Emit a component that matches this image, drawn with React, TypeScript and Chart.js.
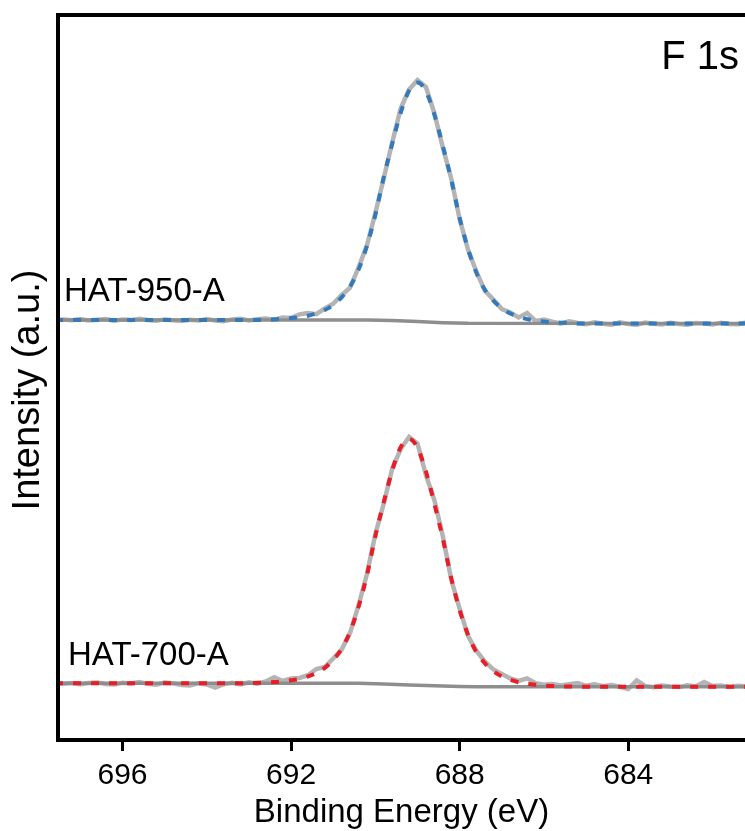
import React, { useEffect, useRef } from 'react';
import { Chart, registerables } from 'chart.js';

Chart.register(...registerables);

// Binding energy grid (eV)
const ENERGY = [
  697.6, 697.4, 697.2, 697.0, 696.8, 696.6, 696.4, 696.2, 696.0, 695.8,
  695.6, 695.4, 695.2, 695.0, 694.8, 694.6, 694.4, 694.2, 694.0, 693.8,
  693.6, 693.4, 693.2, 693.0, 692.8, 692.6, 692.4, 692.2, 692.0, 691.8,
  691.6, 691.4, 691.2, 691.0, 690.8, 690.6, 690.4, 690.2, 690.0, 689.8,
  689.6, 689.4, 689.2, 689.0, 688.8, 688.6, 688.4, 688.2, 688.0, 687.8,
  687.6, 687.4, 687.2, 687.0, 686.8, 686.6, 686.4, 686.2, 686.0, 685.8,
  685.6, 685.4, 685.2, 685.0, 684.8, 684.6, 684.4, 684.2, 684.0, 683.8,
  683.6, 683.4, 683.2, 683.0, 682.8, 682.6, 682.4, 682.2, 682.0, 681.8,
  681.6, 681.4, 681.2,
];

// HAT-950-A (offset trace)
const RAW_950 = [
  419.6, 420.5, 419.8, 420.9, 419.5, 420.2, 421.0, 419.3, 420.4, 419.9,
  421.3, 420.0, 419.2, 420.6, 419.7, 418.9, 420.3, 419.4, 421.0, 419.6,
  418.8, 420.4, 421.2, 419.5, 420.8, 421.5, 420.2, 422.4, 422.0, 425.6,
  427.0, 425.8, 431.6, 436.2, 445.0, 452.4, 472.5, 494.8, 527.0, 562.0,
  597.5, 631.5, 650.6, 660.0, 653.0, 626.8, 592.6, 561.5, 520.8, 490.2,
  468.0, 449.2, 440.4, 431.0, 427.5, 422.6, 427.0, 419.0, 420.4, 418.2,
  416.5, 418.8, 417.0, 415.8, 417.6, 416.2, 415.4, 417.8, 416.0, 415.2,
  417.4, 416.3, 415.5, 417.2, 416.0, 415.3, 417.0, 416.4, 415.6, 417.3,
  416.1, 415.7, 417.6,
];
const FIT_950 = [
  420.0, 420.0, 420.0, 420.0, 420.0, 420.0, 420.0, 420.0, 420.0, 420.0,
  420.0, 420.0, 420.0, 420.0, 420.0, 420.0, 420.0, 420.0, 420.0, 420.0,
  420.0, 420.0, 420.0, 420.0, 420.0, 420.5, 420.7, 421.2, 421.9, 422.9,
  424.3, 426.7, 430.0, 435.1, 442.7, 453.5, 470.2, 494.1, 525.2, 563.1,
  596.3, 627.1, 649.4, 657.4, 648.6, 625.5, 594.2, 560.4, 522.0, 490.8,
  466.9, 450.1, 439.3, 431.7, 426.6, 423.3, 420.9, 419.5, 418.5, 417.8,
  417.3, 417.1, 416.6, 416.6, 416.6, 416.6, 416.6, 416.6, 416.6, 416.6,
  416.6, 416.6, 416.5, 416.5, 416.5, 416.5, 416.5, 416.5, 416.5, 416.5,
  416.5, 416.5, 416.5,
];
const BG_950_E = [697.6, 690.2, 689.6, 689.0, 688.4, 687.8, 681.2];
const BG_950 = [420.0, 420.0, 419.4, 418.4, 417.3, 416.7, 416.5];

// HAT-700-A
const RAW_700 = [
  57.2, 56.2, 57.0, 55.8, 56.9, 57.6, 56.0, 55.4, 57.3, 56.5,
  58.0, 56.1, 55.2, 57.4, 56.6, 55.0, 54.6, 56.8, 55.5, 52.5,
  55.8, 57.2, 55.6, 57.8, 56.4, 58.6, 62.8, 59.0, 61.4, 62.0,
  64.8, 71.0, 73.0, 81.5, 90.4, 107.2, 134.5, 166.0, 206.0, 236.5,
  271.2, 291.0, 303.0, 296.5, 265.0, 240.0, 204.0, 160.5, 131.2, 104.0,
  89.0, 78.4, 70.5, 66.0, 61.5, 59.0, 61.6, 56.8, 55.2, 56.0,
  54.6, 55.8, 57.0, 54.2, 55.6, 53.8, 54.9, 53.2, 51.0, 59.5,
  54.0, 52.8, 54.4, 53.5, 52.9, 54.8, 53.6, 58.0, 53.9, 54.6,
  53.0, 54.2, 53.7,
];
const FIT_700 = [
  56.7, 56.7, 56.7, 56.7, 56.7, 56.7, 56.7, 56.7, 56.7, 56.7,
  56.7, 56.7, 56.7, 56.7, 56.7, 56.7, 56.7, 56.7, 56.7, 56.7,
  56.7, 56.7, 56.7, 56.7, 57.2, 57.4, 57.9, 58.7, 59.7, 61.1,
  63.6, 67.0, 72.2, 80.1, 91.1, 108.4, 133.0, 164.7, 203.9, 238.0,
  269.7, 292.8, 301.1, 292.2, 268.5, 236.2, 201.5, 161.9, 129.8, 105.1,
  87.7, 76.7, 68.8, 63.6, 60.2, 57.7, 56.3, 55.3, 54.5, 54.0,
  53.7, 53.5, 53.3, 53.3, 53.3, 53.3, 53.3, 53.3, 53.3, 53.3,
  53.3, 53.3, 53.2, 53.2, 53.2, 53.2, 53.2, 53.2, 53.2, 53.2,
  53.2, 53.2, 53.2,
];
const BG_700_E = [697.6, 690.4, 689.8, 689.2, 688.6, 688.0, 687.6, 681.2];
const BG_700 = [56.7, 56.7, 56.0, 55.1, 54.2, 53.5, 53.3, 53.2];

const X_TICKS = [696, 692, 688, 684];
const X_MIN = 681.23;
const X_MAX = 697.53;
const Y_MIN = 0;
const Y_MAX = 725;

const SERIES_LABELS = ['HAT-950-A', 'HAT-700-A'];
const PANEL_LABEL = 'F 1s';
const X_TITLE = 'Binding Energy (eV)';
const Y_TITLE = 'Intensity (a.u.)';

const FONT = '"Liberation Sans", Arial, Helvetica, sans-serif';

export default function App() {
  const ref = useRef<HTMLCanvasElement | null>(null);

  useEffect(() => {
    const canvas = ref.current;
    if (!canvas) return;
    const pts = (xs: number[], ys: number[]) => xs.map((x, i) => ({ x, y: ys[i] }));

    const framePlugin = {
      id: 'frameAndLabels',
      afterDraw(chart: any) {
        const { ctx, chartArea: a, scales } = chart;
        const ys = scales.y;
        ctx.save();
        ctx.strokeStyle = '#000';
        ctx.lineWidth = 4;
        ctx.lineJoin = 'miter';
        ctx.lineCap = 'butt';
        ctx.beginPath();
        ctx.moveTo(a.right + 10, a.top);
        ctx.lineTo(a.left, a.top);
        ctx.lineTo(a.left, a.bottom);
        ctx.lineTo(a.right + 10, a.bottom);
        ctx.stroke();

        ctx.fillStyle = '#000';
        ctx.textBaseline = 'alphabetic';
        ctx.textAlign = 'left';
        ctx.font = `33px ${FONT}`;
        ctx.fillText(SERIES_LABELS[0], a.left + 6, ys.getPixelForValue(439));
        ctx.fillText(SERIES_LABELS[1], a.left + 10, ys.getPixelForValue(75));
        ctx.textAlign = 'right';
        ctx.font = `40px ${FONT}`;
        ctx.fillText(PANEL_LABEL, a.right - 6, ys.getPixelForValue(671));

        // y-axis title
        ctx.save();
        ctx.translate(29, ys.getPixelForValue(350));
        ctx.rotate(-Math.PI / 2);
        ctx.textAlign = 'center';
        ctx.textBaseline = 'middle';
        ctx.font = `38px ${FONT}`;
        ctx.fillText(Y_TITLE, 0, 0);
        ctx.restore();

        ctx.restore();
      },
    };

    const chart = new Chart(canvas, {
      type: 'line',
      data: {
        datasets: [
          {
            label: 'HAT-950-A fit',
            data: pts(ENERGY, FIT_950),
            borderColor: '#3579bd',
            borderWidth: 4,
            borderDash: [8, 10],
            pointRadius: 0,
            cubicInterpolationMode: 'monotone',
            order: 0,
          },
          {
            label: 'HAT-700-A fit',
            data: pts(ENERGY, FIT_700),
            borderColor: '#e81d27',
            borderWidth: 4,
            borderDash: [8, 10],
            pointRadius: 0,
            cubicInterpolationMode: 'monotone',
            order: 0,
          },
          {
            label: 'HAT-950-A background',
            data: pts(BG_950_E, BG_950),
            borderColor: '#8e8e8e',
            borderWidth: 3.5,
            pointRadius: 0,
            tension: 0,
            order: 1,
          },
          {
            label: 'HAT-700-A background',
            data: pts(BG_700_E, BG_700),
            borderColor: '#8e8e8e',
            borderWidth: 3.5,
            pointRadius: 0,
            tension: 0,
            order: 1,
          },
          {
            label: 'HAT-950-A raw',
            data: pts(ENERGY, RAW_950),
            borderColor: '#b4b4b4',
            borderWidth: 4.5,
            pointRadius: 0,
            tension: 0,
            order: 2,
          },
          {
            label: 'HAT-700-A raw',
            data: pts(ENERGY, RAW_700),
            borderColor: '#b4b4b4',
            borderWidth: 4.5,
            pointRadius: 0,
            tension: 0,
            order: 2,
          },
        ],
      },
      options: {
        responsive: false,
        animation: false,
        layout: { padding: { top: 15, left: 0, right: 0, bottom: 0 } },
        plugins: {
          legend: { display: false },
          tooltip: { enabled: false },
        },
        scales: {
          x: {
            type: 'linear',
            reverse: true,
            min: X_MIN,
            max: X_MAX,
            afterBuildTicks: (s: any) => {
              s.ticks = X_TICKS.map((v) => ({ value: v }));
            },
            afterFit: (s: any) => {
              s.height = 91;
            },
            grid: {
              display: true,
              drawOnChartArea: false,
              drawTicks: true,
              tickLength: 11,
              tickWidth: 3,
              tickColor: '#000',
              color: '#000',
            },
            border: { display: false },
            ticks: {
              color: '#000',
              font: { family: FONT, size: 30 },
              padding: 7,
              maxRotation: 0,
              autoSkip: false,
            },
            title: {
              display: true,
              text: X_TITLE,
              color: '#000',
              font: { family: FONT, size: 33 },
              padding: { top: 0, bottom: -2 },
            },
          },
          y: {
            type: 'linear',
            min: Y_MIN,
            max: Y_MAX,
            afterFit: (s: any) => {
              s.width = 58;
            },
            grid: { display: false },
            border: { display: false },
            ticks: { display: false },
            title: { display: false, text: Y_TITLE },
          },
        },
      },
      plugins: [framePlugin],
    } as any);

    return () => chart.destroy();
  }, []);

  return (
    <div style={{ position: 'absolute', left: 0, top: 0, width: 745, height: 831, background: '#fff' }}>
      <canvas ref={ref} width={745} height={831} style={{ display: 'block', width: 745, height: 831 }} />
    </div>
  );
}
